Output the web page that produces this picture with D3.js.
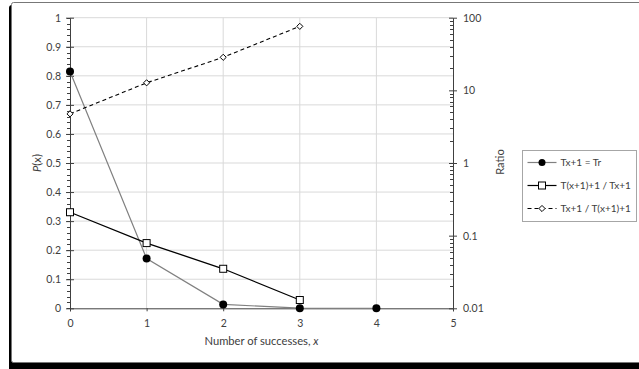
<!DOCTYPE html>
<html>
<head>
    <meta charset="utf-8">
    <title>P(x) and ratios</title>
    <script src="https://d3js.org/d3.v7.min.js"></script>
</head>
<style>
    body { margin: 0; background: #fff; }
    text { font-family: Lato, "Noto Sans", sans-serif; font-size: 10.5px; fill: #404040; }
</style>
<body>
    <svg class='chart'></svg>
</body>
<script>
    // data
    var xVals = [0, 1, 2, 3, 4]
    var probVals = [0.815, 0.171, 0.0135, 0.0005, 0.00001]
    var upRatio = [0.21, 0.079, 0.035, 0.013]
    var downRatio = [4.75, 12.7, 28.5, 76]
    var leftTicks = [0, 0.1, 0.2, 0.3, 0.4, 0.5, 0.6, 0.7, 0.8, 0.9, 1]
    var rightTicks = [0.01, 0.1, 1, 10, 100]
    var xTicks = [0, 1, 2, 3, 4, 5]
    var seriesNames = ["Tx+1 = Tr", "T(x+1)+1 / Tx+1", "Tx+1 / T(x+1)+1"]

    var width = 639, height = 369

    var svg = d3.select('.chart')
        .attr('width', width)
        .attr('height', height)

    // frame with shadow
    svg.append('rect').attr('x', 9).attr('y', 5).attr('width', 660).attr('height', 380)
        .attr('rx', 3).attr('fill', '#000')
    svg.append('rect').attr('x', 11.5).attr('y', 2.5).attr('width', 660).attr('height', 360)
        .attr('rx', 2).attr('fill', '#fff').attr('stroke', '#777')

    var xScale = d3.scaleLinear().domain([0, 5]).range([70, 453])
    var yScale = d3.scaleLinear().domain([0, 1]).range([308.3, 17.7])
    var yLog = d3.scaleLog().domain([0.01, 100]).range([308.3, 17.7])

    // gridlines
    svg.append('g').selectAll('line').data(leftTicks.slice(1)).enter().append('line')
        .attr('x1', xScale(0)).attr('x2', xScale(5))
        .attr('y1', d => yScale(d)).attr('y2', d => yScale(d))
        .attr('stroke', '#d9d9d9').attr('stroke-width', 1)
    svg.append('g').selectAll('line').data(xTicks.slice(1, 5)).enter().append('line')
        .attr('x1', d => xScale(d)).attr('x2', d => xScale(d))
        .attr('y1', yScale(0)).attr('y2', yScale(1))
        .attr('stroke', '#d9d9d9').attr('stroke-width', 1)

    // left axis
    var minorLeft = d3.range(0, 1.0001, 0.02)
    svg.append('g').selectAll('line').data(minorLeft).enter().append('line')
        .attr('x1', xScale(0) - 3).attr('x2', xScale(0))
        .attr('y1', d => Math.round(yScale(d)) + 0.5).attr('y2', d => Math.round(yScale(d)) + 0.5)
        .attr('stroke', '#404040')
    var yAxis = d3.axisLeft(yScale).tickValues(leftTicks).tickSize(0).tickPadding(9)
        .tickFormat(d => String(+d.toFixed(1)))
    var gl = svg.append('g').attr('transform', 'translate(' + xScale(0) + ',0)').call(yAxis)
    gl.select('.domain').attr('stroke', '#404040')
    gl.selectAll('.tick').append('line').attr('x1', -4).attr('x2', 4).attr('stroke', '#404040')
    gl.selectAll('.tick text').attr('fill', '#404040').style('font-size', '10.5px')

    // right log axis
    var minorRight = []
    rightTicks.slice(0, 4).forEach(function (b) {
        for (var k = 2; k <= 9; k++) minorRight.push(b * k)
    })
    svg.append('g').selectAll('line').data(minorRight).enter().append('line')
        .attr('x1', xScale(5) - 3).attr('x2', xScale(5))
        .attr('y1', d => Math.round(yLog(d)) + 0.5).attr('y2', d => Math.round(yLog(d)) + 0.5)
        .attr('stroke', '#404040')
    var yAxisR = d3.axisRight(yLog).tickValues(rightTicks).tickSize(0).tickPadding(10)
        .tickFormat(d => String(d))
    var gr = svg.append('g').attr('transform', 'translate(' + xScale(5) + ',0)').call(yAxisR)
    gr.select('.domain').attr('stroke', '#404040')
    gr.selectAll('.tick').append('line').attr('x1', -4).attr('x2', 4).attr('stroke', '#404040')
    gr.selectAll('.tick text').attr('fill', '#404040').style('font-size', '10.5px')

    // x axis
    var xAxis = d3.axisBottom(xScale).tickValues(xTicks).tickSize(3).tickPadding(8)
        .tickFormat(d3.format('d'))
    var gx = svg.append('g').attr('transform', 'translate(0,' + yScale(0) + ')').call(xAxis)
    gx.select('.domain').attr('stroke', '#404040')
    gx.selectAll('.tick line').attr('stroke', '#404040')
    gx.selectAll('.tick text').attr('fill', '#404040').style('font-size', '10.5px')

    // axis titles
    var xt = svg.append('text').attr('x', 261.5).attr('y', 345).attr('text-anchor', 'middle')
        .style('font-size', '11.2px')
    xt.append('tspan').text('Number of successes, ')
    xt.append('tspan').attr('font-style', 'italic').text('x')

    var yt = svg.append('text').attr('transform', 'translate(41,163) rotate(-90)').attr('text-anchor', 'middle')
        .style('font-size', '11.2px')
    yt.append('tspan').attr('font-style', 'italic').text('P')
    yt.append('tspan').text('(x)')

    svg.append('text').attr('transform', 'translate(504,162) rotate(-90)').attr('text-anchor', 'middle')
        .style('font-size', '11.2px')
        .text('Ratio')

    // series 1: probabilities (gray line, filled circles)
    var probData = xVals.map((x, i) => ({ x: x, y: probVals[i] }))
    svg.append('path').datum(probData)
        .attr('d', d3.line().x(d => xScale(d.x)).y(d => yScale(d.y)))
        .attr('fill', 'none').attr('stroke', '#808080').attr('stroke-width', 1.2)

    // series 2: ratio up (black line, squares)
    var upData = upRatio.map((v, i) => ({ x: xVals[i], y: v }))
    svg.append('path').datum(upData)
        .attr('d', d3.line().x(d => xScale(d.x)).y(d => yLog(d.y)))
        .attr('fill', 'none').attr('stroke', '#000').attr('stroke-width', 1.3)

    // series 3: ratio down (dashed, diamonds)
    var downData = downRatio.map((v, i) => ({ x: xVals[i], y: v }))
    svg.append('path').datum(downData)
        .attr('d', d3.line().x(d => xScale(d.x)).y(d => yLog(d.y)))
        .attr('fill', 'none').attr('stroke', '#000').attr('stroke-width', 1.1)
        .attr('stroke-dasharray', '4,3')

    svg.append('g').selectAll('circle').data(probData).enter().append('circle')
        .attr('cx', d => xScale(d.x)).attr('cy', d => yScale(d.y)).attr('r', 4)
        .attr('fill', '#000')
    svg.append('g').selectAll('rect').data(upData).enter().append('rect')
        .attr('x', d => xScale(d.x) - 3.5).attr('y', d => yLog(d.y) - 3.5)
        .attr('width', 7).attr('height', 7)
        .attr('fill', '#fff').attr('stroke', '#000').attr('stroke-width', 1)
    var diamond = d3.symbol().type(d3.symbolDiamond2).size(24)
    svg.append('g').selectAll('path').data(downData).enter().append('path')
        .attr('transform', d => 'translate(' + xScale(d.x) + ',' + yLog(d.y) + ')')
        .attr('d', diamond).attr('fill', '#fff').attr('stroke', '#000').attr('stroke-width', 1)

    // legend
    var lg = svg.append('g').attr('transform', 'translate(522.5,150.5)')
    lg.append('rect').attr('width', 114).attr('height', 71)
        .attr('fill', '#fff').attr('stroke', '#a6a6a6')
    var rowY = [12, 35, 58]
    seriesNames.forEach(function (name, i) {
        var g = lg.append('g').attr('transform', 'translate(0,' + rowY[i] + ')')
        var ln = g.append('line').attr('x1', 5).attr('x2', 34).attr('y1', 0).attr('y2', 0)
            .attr('stroke', i == 0 ? '#808080' : '#000').attr('stroke-width', 1.2)
        if (i == 2) ln.attr('stroke-dasharray', '4,3')
        if (i == 0) g.append('circle').attr('cx', 19.5).attr('cy', 0).attr('r', 3.5).attr('fill', '#000')
        if (i == 1) g.append('rect').attr('x', 16).attr('y', -3.5).attr('width', 7).attr('height', 7)
            .attr('fill', '#fff').attr('stroke', '#000')
        if (i == 2) g.append('path').attr('transform', 'translate(19.5,0)').attr('d', diamond)
            .attr('fill', '#fff').attr('stroke', '#000')
        g.append('text').attr('x', 38).attr('y', 0).attr('dy', '0.35em').style('font-size', '10px').text(name)
    })
</script>
</html>
